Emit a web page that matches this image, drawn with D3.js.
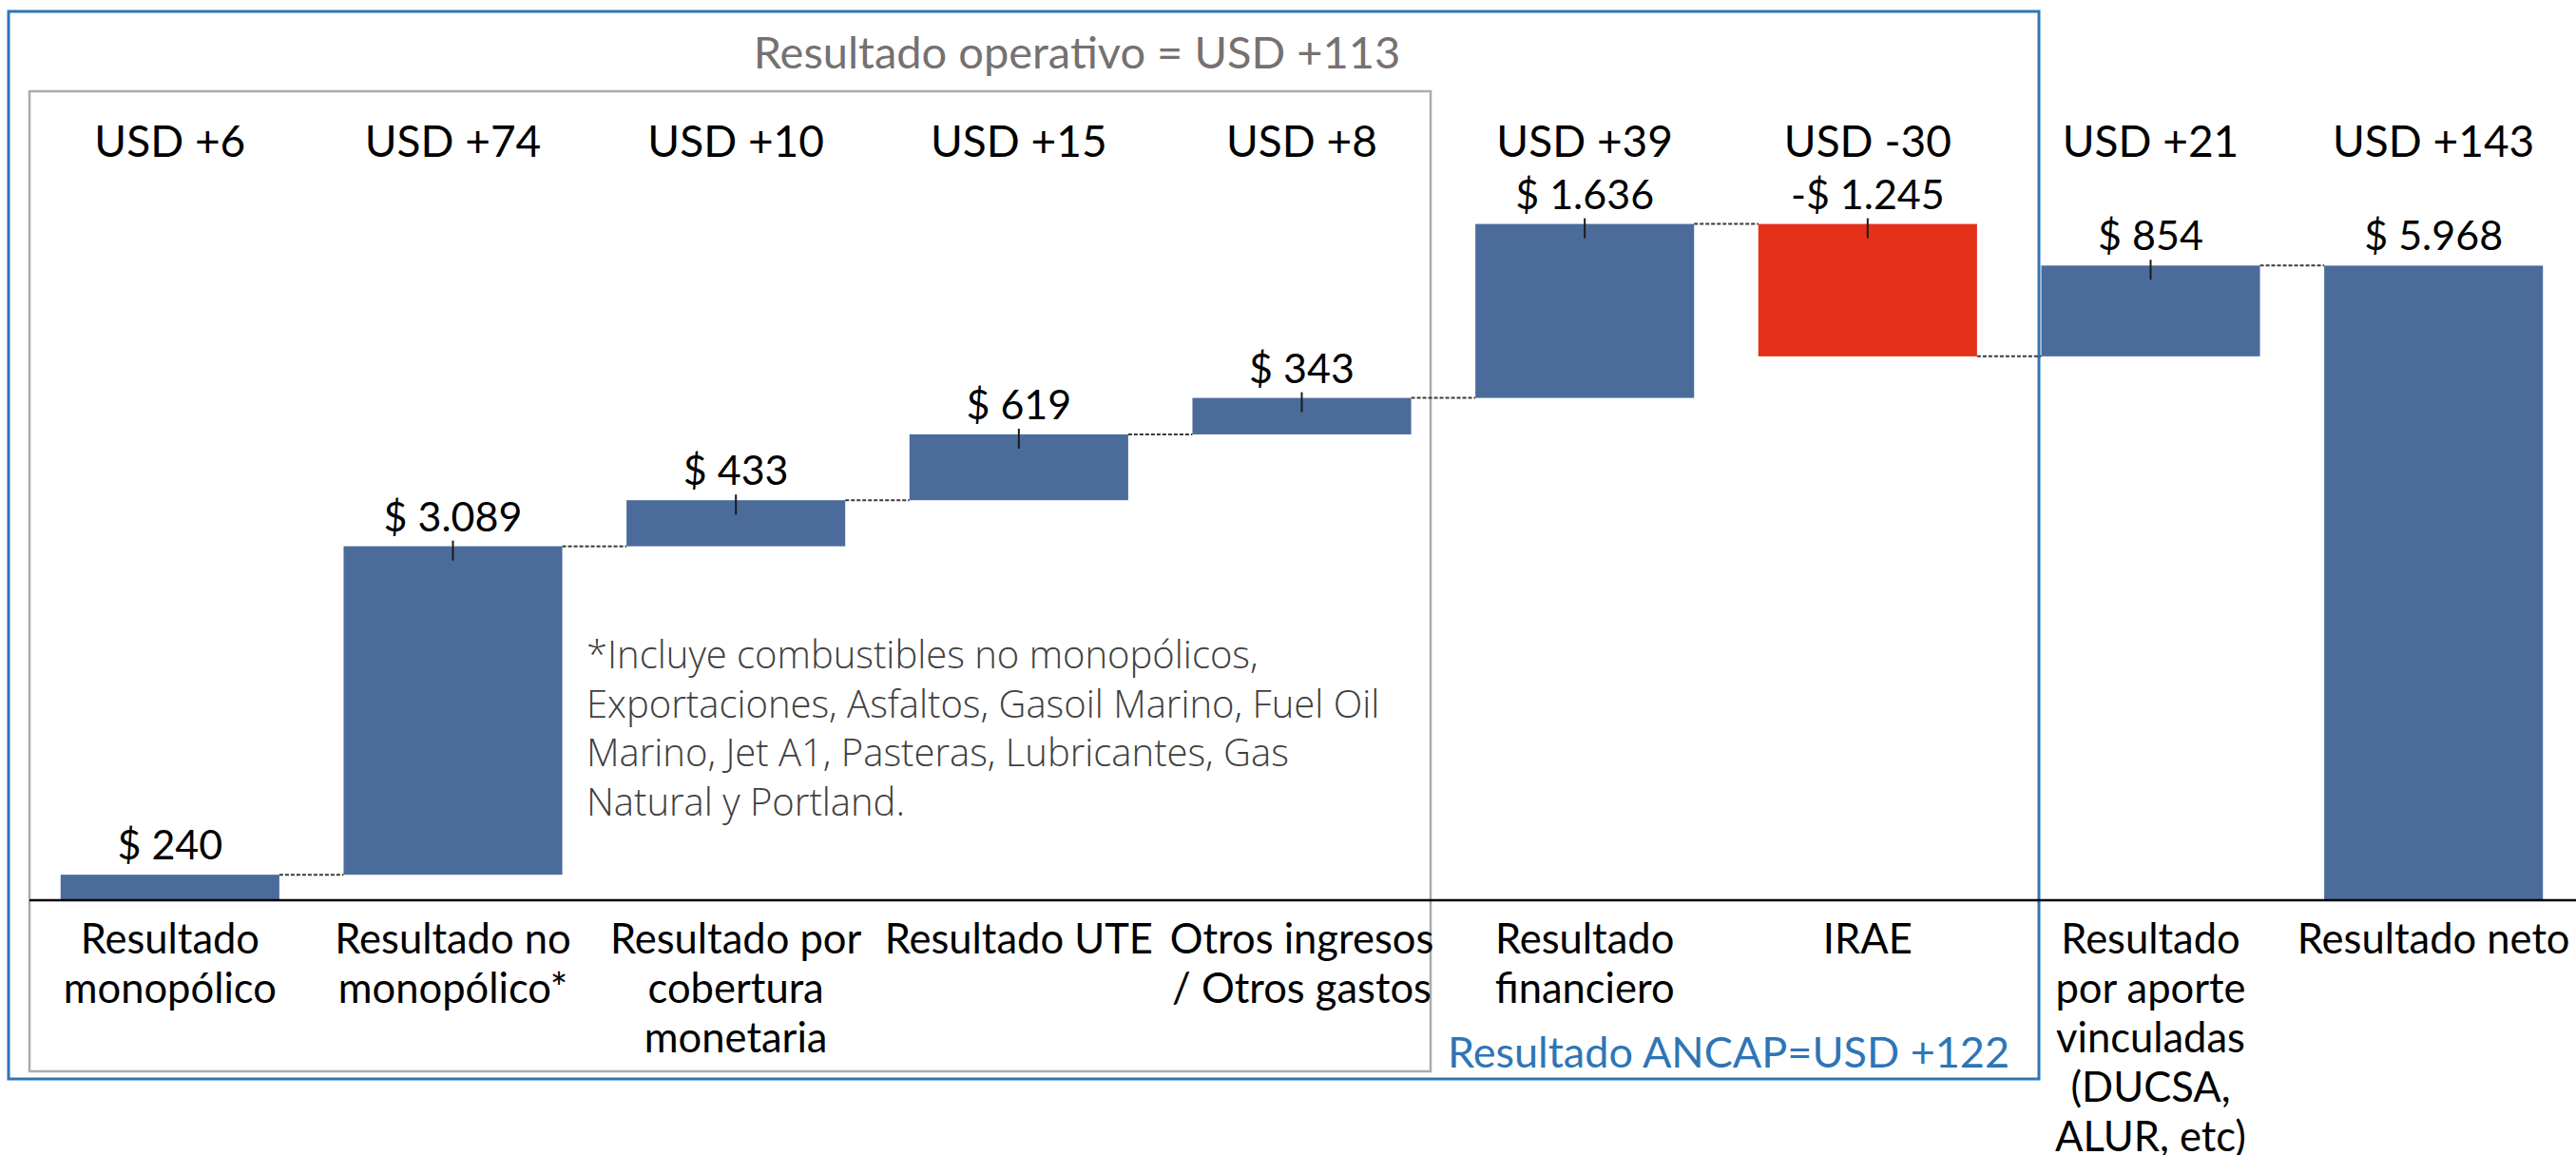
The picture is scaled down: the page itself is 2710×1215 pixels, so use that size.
<!DOCTYPE html>
<html>
<head>
<meta charset="utf-8">
<script src="https://cdn.jsdelivr.net/npm/d3@7"></script>
<style>
  body { margin: 0; background: #fff; }
  svg { display: block; font-family: "Lato", sans-serif; }
</style>
</head>
<body>
<svg id="chart" width="2710" height="1215"></svg>
<script>
// --- Data ---
const categories = [
    "Resultado\nmonopólico",
    "Resultado no\nmonopólico*",
    "Resultado por\ncobertura\nmonetaria",
    "Resultado UTE",
    "Otros ingresos\n/ Otros gastos",
    "Resultado\nfinanciero",
    "IRAE",
    "Resultado\npor aporte\nvinculadas\n(DUCSA,\nALUR, etc)",
    "Resultado neto"
];
const values = [240, 3089, 433, 619, 343, 1636, -1245, 854, 5968];
const usdLabels = ["USD +6", "USD +74", "USD +10", "USD +15", "USD +8", "USD +39", "USD -30", "USD +21", "USD +143"];
const footnote = [
    "*Incluye combustibles no monopólicos,",
    "Exportaciones, Asfaltos, Gasoil Marino, Fuel Oil",
    "Marino, Jet A1, Pasteras, Lubricantes, Gas",
    "Natural y Portland."
];
const operativoTitle = "Resultado operativo = USD +113";
const ancapTitle = "Resultado ANCAP=USD +122";

// --- Setup ---
const width = 2710, height = 1215;
const baseline = 947;
const svg = d3.select("#chart");

// waterfall steps: last category is a total from zero
let running = 0;
const steps = values.map((v, i) => {
    const isTotal = i === values.length - 1;
    const start = isTotal ? 0 : running;
    const end = isTotal ? v : running + v;
    if (!isTotal) running = end;
    return { cat: categories[i], value: v, start, end, isTotal, i };
});

// --- Scales ---
const x = d3.scaleBand()
    .domain(categories)
    .range([30, 2709])
    .paddingInner(0.227)
    .paddingOuter(0.1135);

const y = d3.scaleLinear()
    .domain([0, 7000])
    .range([baseline, 164]);

const es = d3.formatLocale({ decimal: ",", thousands: ".", grouping: [3], currency: ["$", ""] });
const fmt = es.format(",d");
const money = v => v < 0 ? `-$ ${fmt(-v)}` : `$ ${fmt(v)}`;

// --- Frames ---
svg.append("rect")
    .attr("x", 9).attr("y", 12)
    .attr("width", 2145 - 9).attr("height", 1135 - 12)
    .attr("fill", "none")
    .attr("stroke", "#2e75b6")
    .attr("stroke-width", 3);

svg.append("rect")
    .attr("x", 31).attr("y", 96)
    .attr("width", 1505 - 31).attr("height", 1127 - 96)
    .attr("fill", "none")
    .attr("stroke", "#ababab")
    .attr("stroke-width", 2.5);

svg.append("text")
    .attr("x", 1133).attr("y", 72)
    .attr("text-anchor", "middle")
    .style("font-size", "47px")
    .style("fill", "#767171")
    .text(operativoTitle);

svg.append("text")
    .attr("x", 1523).attr("y", 1123)
    .style("font-size", "45px")
    .style("fill", "#2e75b6")
    .text(ancapTitle);

// --- Bars ---
svg.selectAll(".bar")
    .data(steps)
    .join("rect")
    .attr("class", "bar")
    .attr("x", d => x(d.cat))
    .attr("width", x.bandwidth())
    .attr("y", d => y(Math.max(d.start, d.end)))
    .attr("height", d => Math.abs(y(d.start) - y(d.end)))
    .attr("fill", d => d.value < 0 ? "#e3311a" : "#4b6b9b");

// dotted connectors between consecutive bars
svg.selectAll(".connector")
    .data(steps.slice(0, -1))
    .join("line")
    .attr("class", "connector")
    .attr("x1", d => x(d.cat) + x.bandwidth())
    .attr("x2", d => x(categories[d.i + 1]))
    .attr("y1", d => y(d.end))
    .attr("y2", d => y(d.end))
    .attr("stroke", "#3a3a3a")
    .attr("stroke-width", 2)
    .attr("stroke-dasharray", "4 2");

// small markers at the top of the middle bars
svg.selectAll(".marker")
    .data(steps.filter(d => d.i > 0 && !d.isTotal))
    .join("line")
    .attr("class", "marker")
    .attr("x1", d => x(d.cat) + x.bandwidth() / 2)
    .attr("x2", d => x(d.cat) + x.bandwidth() / 2)
    .attr("y1", d => y(Math.max(d.start, d.end)) - 6)
    .attr("y2", d => y(Math.max(d.start, d.end)) + 15)
    .attr("stroke", "#1a1a1a")
    .attr("stroke-width", 2);

// axis line
svg.append("line")
    .attr("x1", 31).attr("x2", width)
    .attr("y1", baseline).attr("y2", baseline)
    .attr("stroke", "#000")
    .attr("stroke-width", 2.5);

// --- Labels ---
svg.selectAll(".val")
    .data(steps)
    .join("text")
    .attr("class", "val")
    .attr("x", d => x(d.cat) + x.bandwidth() / 2)
    .attr("y", d => y(Math.max(d.start, d.end)) - 16)
    .attr("text-anchor", "middle")
    .style("font-size", "43px")
    .style("fill", "#000")
    .text(d => money(d.value));

svg.selectAll(".usd")
    .data(steps)
    .join("text")
    .attr("class", "usd")
    .attr("x", d => x(d.cat) + x.bandwidth() / 2)
    .attr("y", 165)
    .attr("text-anchor", "middle")
    .style("font-size", "46px")
    .style("fill", "#000")
    .text(d => usdLabels[d.i]);

svg.selectAll(".cat")
    .data(steps)
    .join("text")
    .attr("class", "cat")
    .attr("text-anchor", "middle")
    .style("font-size", "43.5px")
    .style("fill", "#000")
    .each(function (d) {
        const t = d3.select(this);
        d.cat.split("\n").forEach((line, k) => {
            t.append("tspan")
                .attr("x", x(d.cat) + x.bandwidth() / 2)
                .attr("y", 1003 + k * 52)
                .text(line);
        });
    });

// footnote
svg.append("text")
    .style("font-family", "'Open Sans', sans-serif")
    .style("font-size", "40px")
    .style("font-weight", 300)
    .style("fill", "#404040")
    .selectAll("tspan")
    .data(footnote)
    .join("tspan")
    .attr("x", 617)
    .attr("y", (d, i) => 703 + i * 51.5)
    .text(d => d);
</script>
</body>
</html>
